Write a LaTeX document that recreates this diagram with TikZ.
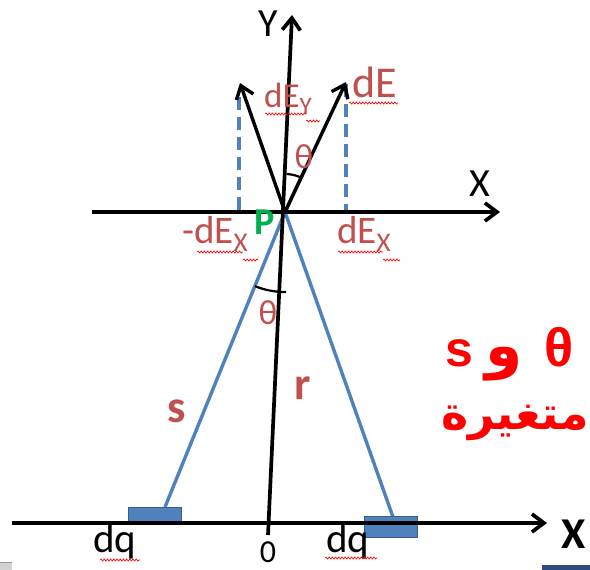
\documentclass[tikz,border=0pt]{standalone}
\usepackage{fontspec}
\setmainfont{Carlito}
\newfontfamily\arabicfont[Script=Arabic]{DejaVu Sans}
\newfontfamily\lsans{Liberation Sans}
\TeXXeTstate=1
\usetikzlibrary{arrows.meta,decorations.pathmorphing,calc}
\definecolor{lblred}{HTML}{C0504D}
\definecolor{lineblue}{HTML}{4F81BD}
\definecolor{rectedge}{HTML}{385D8A}
\definecolor{pgreen}{HTML}{00B050}
\definecolor{barblue}{HTML}{2F4B7F}
\newcommand{\fsz}[1]{\fontsize{#1}{#1}\selectfont}
\begin{document}
\begin{tikzpicture}[x=1pt,y=-1pt,
  axisline/.style={line width=3.7pt,-{Straight Barb[length=12pt,width=18pt]}},
  vecline/.style={line width=3.4pt,-{Straight Barb[length=12pt,width=18pt]}},
  blueline/.style={lineblue,line width=3.4pt},
  dashline/.style={lineblue,line width=3.2pt,dash pattern=on 13pt off 7pt},
  charge/.style={fill=lineblue,draw=rectedge,line width=1pt},
  lbl/.style={text=lblred,inner sep=0pt,anchor=base west},
  squig/.style={red,line width=0.7pt,decorate,decoration={snake,segment length=3.2pt,amplitude=1pt}},
  arcline/.style={line width=2.2pt}
]
\useasboundingbox (0,0) rectangle (590,570);
% coordinates
\coordinate (P) at (285,212);
\coordinate (Xl) at (92,212);
\coordinate (Xr) at (500,212);
\coordinate (Ytop) at (292,15);
\coordinate (Ybot) at (268,535);
\coordinate (BXl) at (12,523);
\coordinate (BXr) at (547,523);
\coordinate (O) at (268,523);
\coordinate (dEtip) at (346,82);
\coordinate (mdEtip) at (240,83);
\coordinate (dashLtop) at (239,97);
\coordinate (dashLbot) at (239,210);
\coordinate (dashRtop) at (346,84);
\coordinate (dashRbot) at (346,212);
\coordinate (qL) at (165,507);
\coordinate (qR) at (393,517);
% artifacts at bottom edges
\fill[gray!35] (0,562) rectangle (12,570);
\fill[gray!80] (0,561.5) rectangle (12,563);
\fill[barblue] (542,565) rectangle (590,570);
% blue lines
\draw[blueline] (qL) -- (P) -- ($(P)!0.35!(dEtip)$);
\draw[blueline] (qR) -- (P);
% charges
\draw[charge] (128,507) rectangle (181,523);
\draw[charge] (364,516) rectangle (417,537);
% dashed projections
\draw[dashline] (dashLtop) -- (dashLbot);
\draw[dashline] (dashRtop) -- (dashRbot);
% axes
\draw[axisline] (Xl) -- (Xr);
\draw[axisline] (Ybot) -- (Ytop);
\draw[axisline] (BXl) -- (BXr);
% field vectors
\draw[vecline] (P) -- (dEtip);
\draw[vecline] (P) -- (mdEtip);
% angle arcs (y axis points down, so angles are negated)
\draw[arcline] (P) ++(-87.4:38) arc[start angle=-87.4,end angle=-64.9,radius=38];
\draw[arcline] (P) ++(112.1:80) arc[start angle=112.1,end angle=92,radius=80] -- ++(4,0);
% labels
\node[inner sep=0pt,anchor=base] (Ylab) at (268,37) {\fsz{40}Y};
\node[inner sep=0pt,anchor=base] (Xlab) at (480,196) {\fsz{40}X};
\node[lbl] (dElab) at (352,97) {\fsz{44}dE};
\node[lbl] (dEylab) at (264,107) {\fsz{35}dE\raisebox{-0.22em}{\fsz{25}Y}};
\node[text=lblred,inner sep=0pt] (th1) at (304,157) {\fsz{35}θ};
\node[lbl] (mdExlab) at (182,243) {\fsz{39}-dE\raisebox{-0.22em}{\fsz{27}X}};
\node[lbl] (dExlab) at (337,243) {\fsz{39}dE\raisebox{-0.22em}{\fsz{27}X}};
\node[inner sep=0pt,anchor=base west,text=pgreen] (Plab) at (254,234) {\fsz{38}\bfseries P};
\node[text=lblred,inner sep=0pt] (th2) at (268,313) {\fsz{35}θ};
\node[text=lblred,inner sep=0pt] (rlab) at (303,388) {\fsz{46}\bfseries r};
\node[text=lblred,inner sep=0pt] (slab) at (177,411) {\fsz{46}\bfseries s};
\node[inner sep=0pt,anchor=base west] (dq1) at (93,552) {\fsz{41}dq};
\node[inner sep=0pt,anchor=base west] (dq2) at (326,552) {\fsz{41}dq};
\node[inner sep=0pt,anchor=base] (zero) at (268,562) {\fsz{32}0};
\node[inner sep=0pt,anchor=base] (BXlab) at (574,548) {\fsz{44}\bfseries X};
% red Arabic note
\node[text=red,inner sep=0pt] (var1) at (510,354) {\fsz{50}\lsans\bfseries s\hspace{12pt}{\fsz{60}\arabicfont و}\hspace{22pt}{\fsz{54}θ}};
\node[text=red,inner sep=0pt] (var2) at (515,423) {\fsz{46}\arabicfont\bfseries\beginR متغيرة\endR};
% spell-check squiggles
\draw[squig] (349,103) -- (398,103);
\draw[squig] (265,114) -- (306,114);
\draw[squig] (306,121) -- (320,121);
\draw[squig] (197,252) -- (243,252);
\draw[squig] (243,260) -- (258,260);
\draw[squig] (338,252) -- (383,252);
\draw[squig] (383,260) -- (400,260);
\draw[squig] (100,560) -- (140,560);
\draw[squig] (325,558) -- (377,558);
\end{tikzpicture}
\end{document}
